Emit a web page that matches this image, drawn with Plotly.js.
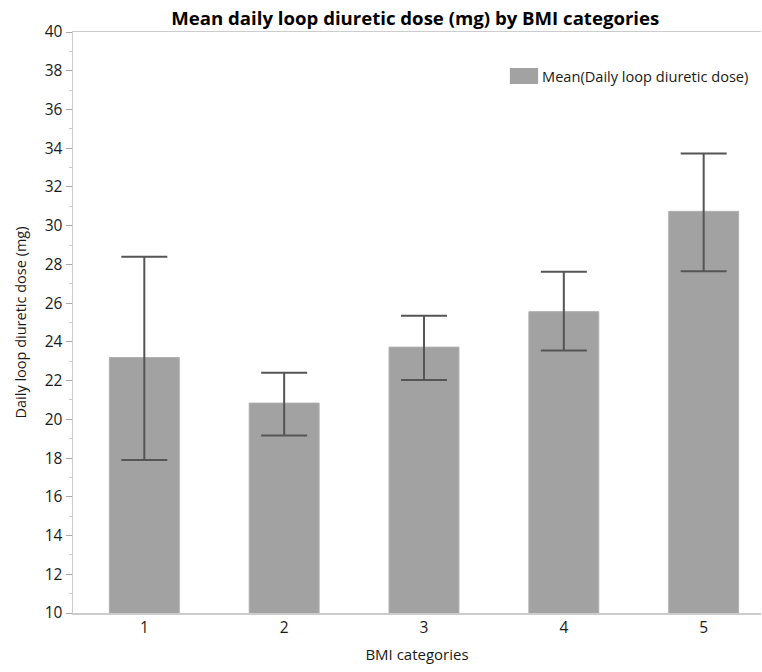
<!DOCTYPE html>
<html>
<head>
<meta charset="utf-8">
<script src="https://cdn.plot.ly/plotly-3.0.1.min.js"></script>
<style>html,body{margin:0;padding:0;background:#fff;}#chart{width:762px;height:672px;}</style>
</head>
<body>
<div id="chart"></div>
<script>
const categories = ["1", "2", "3", "4", "5"];
const meanDose = [23.19, 20.84, 23.73, 25.56, 30.74];
const upperLimit = [28.40, 22.41, 25.35, 27.62, 33.73];
const lowerLimit = [17.90, 19.17, 22.03, 23.55, 27.64];
const yTicks = [10, 12, 14, 16, 18, 20, 22, 24, 26, 28, 30, 32, 34, 36, 38, 40];
const seriesName = "Mean(Daily loop diuretic dose)";

const errPlus = meanDose.map((m, i) => upperLimit[i] - m);
const errMinus = meanDose.map((m, i) => m - lowerLimit[i]);
const xPos = categories.map(c => Number(c));

const FONT = "Open Sans, Noto Sans, DejaVu Sans, sans-serif";
const TXT = "#1a1a1a";

const trace = {
  type: "bar",
  x: xPos,
  y: meanDose,
  width: 0.5,
  name: seriesName,
  showlegend: false,
  marker: {color: "#a2a2a2", line: {color: "#b0b0b0", width: 1}},
  error_y: {
    type: "data",
    symmetric: false,
    array: errPlus,
    arrayminus: errMinus,
    color: "#555555",
    thickness: 2,
    width: 23
  },
  hoverinfo: "skip"
};

const layout = {
  width: 762,
  height: 672,
  margin: {l: 73, r: 1, t: 32, b: 59},
  paper_bgcolor: "#ffffff",
  plot_bgcolor: "#ffffff",
  font: {family: FONT, size: 15, color: TXT},
  title: {
    text: "<b>Mean daily loop diuretic dose (mg) by BMI categories</b>",
    font: {family: FONT, size: 18.6, color: "#000"},
    x: 0.545, xanchor: "center", y: 0.972, yanchor: "middle"
  },
  showlegend: false,
  shapes: [{
    type: "rect", xref: "paper", yref: "paper",
    x0: 0.635, x1: 0.676, y0: 0.9105, y1: 0.938,
    fillcolor: "#a2a2a2", line: {width: 0}
  }],
  annotations: [{
    text: seriesName, xref: "paper", yref: "paper",
    x: 0.679, y: 0.924, xanchor: "left", yanchor: "middle",
    showarrow: false, font: {family: FONT, size: 14.6, color: TXT}
  }],
  xaxis: {
    range: [0.49, 5.41],
    tickmode: "array",
    tickvals: xPos,
    ticktext: categories,
    showgrid: false,
    zeroline: false,
    showline: true,
    linecolor: "#cccccc",
    linewidth: 1.5,
    mirror: true,
    ticks: "",
    tickfont: {family: FONT, size: 15.5, color: TXT},
    title: {text: "BMI categories", font: {family: FONT, size: 15, color: TXT}, standoff: 12}
  },
  yaxis: {
    range: [10, 40],
    tickmode: "array",
    tickvals: yTicks,
    showgrid: false,
    zeroline: false,
    showline: true,
    linecolor: "#cccccc",
    linewidth: 1.5,
    ticks: "outside",
    ticklen: 6,
    tickcolor: "#aaaaaa",
    minor: {dtick: 1, ticks: "outside", ticklen: 3, tickcolor: "#cccccc", showgrid: false},
    tickfont: {family: FONT, size: 15.5, color: TXT},
    title: {text: "Daily loop diuretic dose (mg)", font: {family: FONT, size: 14.5, color: TXT}, standoff: 14}
  }
};

Plotly.newPlot("chart", [trace], layout, {displayModeBar: false, staticPlot: true});
</script>
</body>
</html>
